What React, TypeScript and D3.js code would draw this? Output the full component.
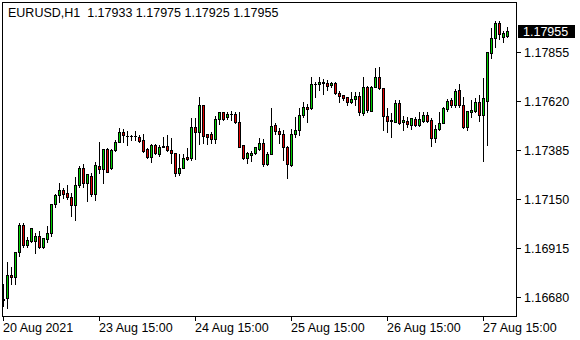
import React from "react";
import * as d3 from "d3";

const symbolTitle = "EURUSD,H1  1.17933 1.17975 1.17925 1.17955";
const lastPrice = 1.17955;

const opens = [
  1.16668, 1.16674, 1.16786, 1.16775, 1.16895, 1.17026, 1.16931, 1.1695, 1.1695, 1.16971,
  1.16921, 1.16957, 1.16986, 1.17125, 1.1717, 1.17192, 1.17179, 1.17159, 1.17123, 1.17216,
  1.17298, 1.17229, 1.17261, 1.17173, 1.17309, 1.17293, 1.17389, 1.17301, 1.17386, 1.17424,
  1.17471, 1.17452, 1.1745, 1.17452, 1.17447, 1.17434, 1.17389, 1.17351, 1.17408, 1.17366,
  1.17399, 1.17405, 1.17386, 1.1737, 1.17274, 1.17298, 1.17353, 1.17346, 1.17495, 1.17469,
  1.176, 1.17461, 1.17462, 1.17437, 1.17533, 1.17565, 1.17543, 1.17558, 1.17558, 1.1752,
  1.17408, 1.17349, 1.17362, 1.1737, 1.17389, 1.17418, 1.1732, 1.17368, 1.17504, 1.17477,
  1.17461, 1.17399, 1.17312, 1.17461, 1.17482, 1.17554, 1.17591, 1.17585, 1.17702, 1.17701,
  1.17712, 1.17706, 1.17699, 1.17706, 1.17658, 1.17648, 1.17637, 1.17613, 1.17629, 1.17645,
  1.17562, 1.17688, 1.17574, 1.17687, 1.17735, 1.17682, 1.17549, 1.17526, 1.17521, 1.1761,
  1.17517, 1.17525, 1.17507, 1.17534, 1.17507, 1.17526, 1.17554, 1.1753, 1.17442, 1.17485,
  1.17514, 1.17584, 1.17626, 1.17603, 1.17674, 1.176, 1.17497, 1.17569, 1.17574, 1.17613,
  1.17552, 1.17622, 1.1785, 1.1792, 1.17994, 1.17929, 1.17933,
];
const highs = [
  1.16742, 1.16847, 1.16824, 1.16898, 1.17035, 1.17034, 1.16967, 1.17012, 1.16986, 1.16997,
  1.16964, 1.17021, 1.17128, 1.17174, 1.17227, 1.17205, 1.17218, 1.17178, 1.17256, 1.17309,
  1.17318, 1.1727, 1.17274, 1.17326, 1.17424, 1.17392, 1.17393, 1.17389, 1.17434, 1.1749,
  1.17486, 1.17477, 1.17459, 1.17475, 1.17458, 1.17462, 1.17394, 1.17414, 1.17414, 1.1741,
  1.17449, 1.17458, 1.17443, 1.17372, 1.17365, 1.17365, 1.17394, 1.17538, 1.17538, 1.17639,
  1.17602, 1.17462, 1.17473, 1.17549, 1.17569, 1.17569, 1.17565, 1.17574, 1.17565, 1.17567,
  1.17409, 1.17377, 1.17382, 1.174, 1.17442, 1.17437, 1.17376, 1.17586, 1.17515, 1.1749,
  1.17482, 1.17405, 1.17485, 1.17543, 1.17586, 1.17617, 1.17604, 1.17736, 1.17713, 1.17735,
  1.17725, 1.17722, 1.17713, 1.17709, 1.17667, 1.17649, 1.17641, 1.17661, 1.17663, 1.17661,
  1.17736, 1.1769, 1.1769, 1.17778, 1.17781, 1.17683, 1.17586, 1.17562, 1.17626, 1.17626,
  1.17546, 1.17545, 1.17539, 1.17543, 1.17569, 1.17569, 1.17569, 1.17538, 1.17506, 1.17565,
  1.17591, 1.17629, 1.17634, 1.17677, 1.17702, 1.17641, 1.17574, 1.17626, 1.17634, 1.17651,
  1.17731, 1.17855, 1.17968, 1.18006, 1.18006, 1.17958, 1.17975,
];
const lows = [
  1.16638, 1.16629, 1.16742, 1.16741, 1.16878, 1.16921, 1.16921, 1.16945, 1.16893, 1.16915,
  1.16917, 1.16943, 1.16974, 1.17113, 1.17137, 1.17154, 1.17152, 1.1707, 1.17051, 1.17209,
  1.17207, 1.17142, 1.17166, 1.17147, 1.17274, 1.17229, 1.17278, 1.17296, 1.17382, 1.17421,
  1.17425, 1.17408, 1.17434, 1.17434, 1.17425, 1.17376, 1.17346, 1.17329, 1.17365, 1.17357,
  1.17398, 1.17379, 1.17322, 1.17261, 1.17266, 1.17297, 1.17338, 1.17338, 1.17341, 1.17414,
  1.17418, 1.17416, 1.17418, 1.17418, 1.17509, 1.1753, 1.17536, 1.1753, 1.17514, 1.17397,
  1.17341, 1.17322, 1.17333, 1.17365, 1.17386, 1.17309, 1.17314, 1.17366, 1.17462, 1.17418,
  1.17338, 1.1725, 1.17309, 1.17447, 1.17458, 1.17545, 1.17521, 1.17584, 1.17641, 1.17674,
  1.17653, 1.17674, 1.17689, 1.17653, 1.17613, 1.17626, 1.176, 1.1761, 1.17602, 1.17554,
  1.17554, 1.17569, 1.17572, 1.17685, 1.17677, 1.17482, 1.17473, 1.17449, 1.17517, 1.1751,
  1.17479, 1.17497, 1.17488, 1.17501, 1.17501, 1.17521, 1.17517, 1.17406, 1.17421, 1.17482,
  1.17513, 1.17574, 1.17593, 1.17593, 1.17591, 1.1749, 1.17482, 1.17545, 1.17569, 1.17526,
  1.17334, 1.1741, 1.17824, 1.17881, 1.17917, 1.17905, 1.17925,
];
const closes = [
  1.1667, 1.16786, 1.16775, 1.16895, 1.17026, 1.16931, 1.16954, 1.1701, 1.16971, 1.16921,
  1.16962, 1.16986, 1.17126, 1.1717, 1.17192, 1.17176, 1.17159, 1.17123, 1.17216, 1.17298,
  1.17229, 1.17269, 1.17173, 1.17312, 1.17293, 1.17389, 1.17281, 1.17386, 1.17424, 1.17471,
  1.17456, 1.1745, 1.17452, 1.1745, 1.1743, 1.17382, 1.17351, 1.17408, 1.1737, 1.17399,
  1.17405, 1.17386, 1.17373, 1.17274, 1.17298, 1.17347, 1.17344, 1.17495, 1.17469, 1.176,
  1.17453, 1.17449, 1.1744, 1.17533, 1.17565, 1.17533, 1.17558, 1.17557, 1.17517, 1.17401,
  1.17349, 1.1737, 1.1737, 1.17399, 1.17418, 1.17317, 1.17365, 1.17501, 1.17477, 1.17461,
  1.17397, 1.17317, 1.17461, 1.17482, 1.17554, 1.17591, 1.17584, 1.17702, 1.17703, 1.17712,
  1.17707, 1.17694, 1.17705, 1.17658, 1.17646, 1.17632, 1.17617, 1.17629, 1.17645, 1.17565,
  1.17688, 1.17578, 1.17688, 1.17735, 1.17682, 1.17549, 1.17526, 1.17528, 1.1761, 1.17514,
  1.1753, 1.17509, 1.17538, 1.17507, 1.17533, 1.17554, 1.17523, 1.17442, 1.17485, 1.17514,
  1.17586, 1.17621, 1.17603, 1.17669, 1.176, 1.17497, 1.17573, 1.17578, 1.17616, 1.17552,
  1.17635, 1.17853, 1.1792, 1.17994, 1.17941, 1.17946, 1.17955,
];

const priceTicks = [1.1668, 1.16915, 1.1715, 1.17385, 1.1762, 1.17855];
const timeLabels = ["20 Aug 2021", "23 Aug 15:00", "24 Aug 15:00", "25 Aug 15:00", "26 Aug 15:00", "27 Aug 15:00"];
const timeLabelBars = [0, 24, 48, 72, 96, 120];

const W = 580;
const H = 340;
const frame = { left: 2, top: 2, right: 516, bottom: 316 };
const FONT = "'Liberation Sans', Arial, sans-serif";
const BULL = "#00d000";
const BEAR = "#e00000";

export default function App() {
  const n = opens.length;
  const x = d3.scaleLinear().domain([0, n - 1]).range([3, 3 + 4 * (n - 1)]);
  const y = d3
    .scaleLinear()
    .domain([priceTicks[0], priceTicks[priceTicks.length - 1]])
    .range([297, 52]);

  const bars = d3.range(n).map((i) => {
    const o = opens[i], c = closes[i], hi = highs[i], lo = lows[i];
    const cx = Math.round(x(i));
    const yH = Math.round(y(hi));
    const yL = Math.round(y(lo));
    const top = Math.round(y(Math.max(o, c)));
    const bot = Math.round(y(Math.min(o, c)));
    const color = c > o ? BULL : c < o ? BEAR : "#000";
    return { i, cx, yH, yL, top, bot, color };
  });

  return (
    <svg width={W} height={H} style={{ display: "block", position: "absolute", left: 0, top: 0, background: "#fff" }} shapeRendering="crispEdges">
      <rect x={0} y={0} width={W} height={H} fill="#fff" />
      <g clipPath="url(#plotclip)">
        <defs>
          <clipPath id="plotclip">
            <rect x={frame.left} y={frame.top} width={frame.right - frame.left} height={frame.bottom - frame.top} />
          </clipPath>
        </defs>
        {bars.map((b) => (
          <g key={b.i}>
            <rect x={b.cx} y={b.yH} width={1} height={Math.max(1, b.yL - b.yH + 1)} fill="#000" />
            <rect x={b.cx - 1} y={b.top} width={3} height={Math.max(1, b.bot - b.top + 1)} fill="#000" />
            {b.bot - b.top >= 2 && (
              <rect x={b.cx} y={b.top + 1} width={1} height={b.bot - b.top - 1} fill={b.color} />
            )}
          </g>
        ))}
      </g>
      {/* frame */}
      <rect
        x={frame.left + 0.5}
        y={frame.top + 0.5}
        width={frame.right - frame.left}
        height={frame.bottom - frame.top}
        fill="none"
        stroke="#000"
        strokeWidth={1}
      />
      {/* price axis */}
      {priceTicks.map((p) => (
        <g key={p}>
          <line x1={frame.right + 0.5} x2={frame.right + 4.5} y1={Math.round(y(p)) + 0.5} y2={Math.round(y(p)) + 0.5} stroke="#000" />
          <text x={524} y={Math.round(y(p)) + 5} fontFamily={FONT} fontSize={12.5} fill="#000" shapeRendering="auto">
            {p.toFixed(5)}
          </text>
        </g>
      ))}
      {/* current price label */}
      <rect x={518} y={Math.round(y(lastPrice)) - 6} width={57} height={13} fill="#000" />
      <text x={523} y={Math.round(y(lastPrice)) + 5} fontFamily={FONT} fontSize={12.5} fill="#fff">
        {lastPrice.toFixed(5)}
      </text>
      {/* time axis */}
      {timeLabelBars.map((bi, k) => (
        <g key={bi}>
          <line x1={Math.round(x(bi)) + 0.5} x2={Math.round(x(bi)) + 0.5} y1={frame.bottom + 0.5} y2={frame.bottom + 4.5} stroke="#000" />
          <text x={Math.round(x(bi))} y={332} fontFamily={FONT} fontSize={12.5} fill="#000">
            {timeLabels[k]}
          </text>
        </g>
      ))}
      {/* title */}
      <text x={8} y={17} fontFamily={FONT} fontSize={12.5} fill="#000" style={{ whiteSpace: "pre" }}>
        {symbolTitle}
      </text>
    </svg>
  );
}
